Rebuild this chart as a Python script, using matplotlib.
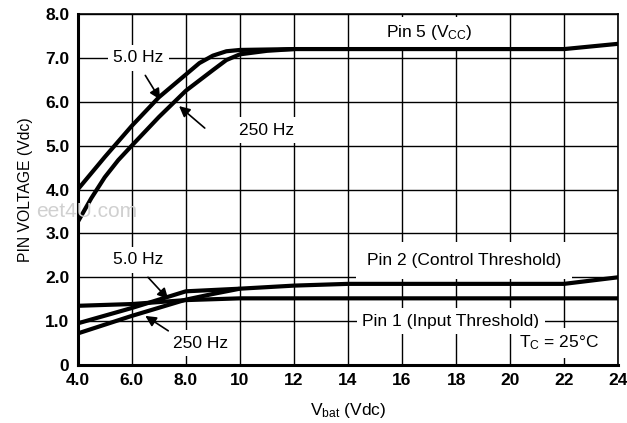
import matplotlib
matplotlib.use("Agg")
import matplotlib.pyplot as plt

plt.rcParams['font.family'] = ['Liberation Sans', 'DejaVu Sans']
plt.rcParams['mathtext.default'] = 'regular'

# Pin 5 (Vcc) curves
pin5_5hz_x = [4, 5, 6, 7, 8, 8.5, 9, 9.5, 10, 12, 22, 24]
pin5_5hz_y = [4.0, 4.74, 5.45, 6.1, 6.62, 6.88, 7.05, 7.15, 7.18, 7.2, 7.2, 7.32]
pin5_250hz_x = [4, 4.5, 5, 5.5, 6, 7, 8, 9, 9.5, 10, 11, 12]
pin5_250hz_y = [3.26, 3.8, 4.28, 4.67, 5.0, 5.65, 6.25, 6.72, 6.95, 7.08, 7.16, 7.2]

# Pin 2 (control threshold) curves
pin2_5hz_x = [4, 6, 8, 10, 12, 14, 22, 24]
pin2_5hz_y = [0.95, 1.3, 1.68, 1.74, 1.81, 1.85, 1.85, 2.0]
pin2_250hz_x = [4, 6, 8, 9, 10]
pin2_250hz_y = [0.72, 1.12, 1.49, 1.62, 1.74]

# Pin 1 (input threshold)
pin1_x = [4, 6, 8, 10, 24]
pin1_y = [1.35, 1.39, 1.48, 1.52, 1.52]

x_ticks = [4, 6, 8, 10, 12, 14, 16, 18, 20, 22, 24]
x_labels = ["4.0", "6.0", "8.0", "10", "12", "14", "16", "18", "20", "22", "24"]
y_ticks = [0, 1, 2, 3, 4, 5, 6, 7, 8]
y_labels = ["0", "1.0", "2.0", "3.0", "4.0", "5.0", "6.0", "7.0", "8.0"]

fig = plt.figure(figsize=(6.27, 4.23), dpi=100)
ax = fig.add_axes([0.124, 0.137, 0.862, 0.830])

# faint site watermark from the scan
fig.text(0.058, 0.50, "eet4U.com", color="#d0d0d0", fontsize=15, va="center", zorder=0)

lw = 3.0
ax.plot(pin5_5hz_x, pin5_5hz_y, color="black", lw=lw, solid_capstyle="butt", zorder=3)
ax.plot(pin5_250hz_x, pin5_250hz_y, color="black", lw=lw, solid_capstyle="butt", zorder=3)
ax.plot(pin2_5hz_x, pin2_5hz_y, color="black", lw=lw, solid_capstyle="butt", zorder=3)
ax.plot(pin2_250hz_x, pin2_250hz_y, color="black", lw=lw, solid_capstyle="butt", zorder=3)
ax.plot(pin1_x, pin1_y, color="black", lw=lw, solid_capstyle="butt", zorder=3)

ax.set_xlim(4, 24)
ax.set_ylim(0, 8)
ax.set_xticks(x_ticks)
ax.set_xticklabels(x_labels)
ax.set_yticks(y_ticks)
ax.set_yticklabels(y_labels)
ax.tick_params(length=0, labelsize=12.5, pad=6)
for lab in ax.get_xticklabels() + ax.get_yticklabels():
    lab.set_fontweight("bold")
ax.grid(True, color="black", lw=1.0)
ax.set_axisbelow(True)

for side in ["left", "bottom"]:
    ax.spines[side].set_linewidth(2.2)
for side in ["top", "right"]:
    ax.spines[side].set_linewidth(1.2)

ax.set_xlabel("V$_{bat}$ (Vdc)", fontsize=12.5, labelpad=9)
ax.set_ylabel("PIN VOLTAGE (Vdc)", fontsize=11.3, labelpad=9)

box = dict(facecolor="white", edgecolor="none", pad=4)
fs = 12.5
ax.text(17.0, 7.58, "Pin 5 (V$_{CC}$)", fontsize=fs, ha="center", va="center", bbox=box, zorder=2)
ax.text(6.25, 7.0, "5.0 Hz", fontsize=fs, ha="center", va="center", bbox=box, zorder=2)
ax.text(11.0, 5.35, "250 Hz", fontsize=fs, ha="center", va="center", bbox=box, zorder=2)
ax.text(6.25, 2.4, "5.0 Hz", fontsize=fs, ha="center", va="center", bbox=box, zorder=2)
ax.text(8.55, 0.5, "250 Hz", fontsize=fs, ha="center", va="center", bbox=box, zorder=2)
ax.text(18.3, 2.38, "Pin 2 (Control Threshold)", fontsize=fs, ha="center", va="center",
        bbox=dict(facecolor="white", edgecolor="none", pad=8), zorder=2)
ax.text(17.8, 1.0, "Pin 1 (Input Threshold)", fontsize=fs, ha="center", va="center", bbox=box, zorder=2)
ax.text(21.8, 0.5, "T$_{C}$ = 25°C", fontsize=fs, ha="center", va="center", bbox=box, zorder=2)

arrow = dict(arrowstyle="-|>", color="black", lw=1.2, mutation_scale=16, shrinkA=0, shrinkB=0)
ax.annotate("", xy=(7.05, 6.05), xytext=(6.5, 6.6), arrowprops=arrow, zorder=4)
ax.annotate("", xy=(7.75, 5.9), xytext=(8.7, 5.4), arrowprops=arrow, zorder=4)
ax.annotate("", xy=(7.35, 1.5), xytext=(6.6, 2.0), arrowprops=arrow, zorder=4)
ax.annotate("", xy=(6.5, 1.12), xytext=(7.35, 0.78), arrowprops=arrow, zorder=4)

fig.savefig("out.png", dpi=100)
